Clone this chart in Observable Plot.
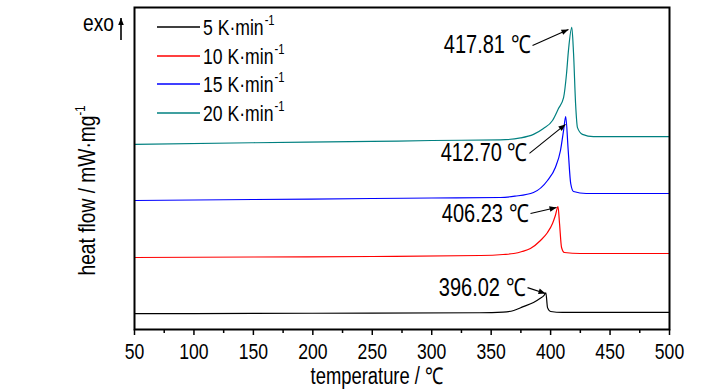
<!DOCTYPE html>
<html><head><meta charset="utf-8">
<script src="https://cdn.jsdelivr.net/npm/d3@7"></script>
<script src="https://cdn.jsdelivr.net/npm/@observablehq/plot@0.6"></script>
<style>body{margin:0;background:#fff}</style>
</head><body><div id="chart"></div>
<script>
// ---- data (temperature in °C, heat flow in arbitrary offset units) ----
const rates = ["5", "10", "15", "20"];
const colors = ["#000000", "#ff0000", "#0000ff", "#008080"];

const t5  = [50, 150, 250, 340, 360, 369, 377, 385.6, 391, 394.5, 396.02, 397.4, 400, 410, 500];
const hf5 = [4.9, 5.0, 5.1, 5.2, 5.4, 5.9, 7.1, 8.4, 9.6, 10.6, 11.4, 6.8, 5.6, 5.3, 5.3];

const t10  = [50, 150, 250, 341, 360, 369, 376, 383, 391.5, 397.4, 401.6, 404, 406.23, 407.5, 409.2, 411.6, 425, 500];
const hf10 = [22.36, 22.52, 22.67, 22.98, 23.29, 23.6, 24.22, 25.16, 27.64, 30.12, 32.92, 35.4, 38.2, 32.92, 25.47, 23.91, 23.6, 23.6];

const t15  = [50, 150, 250, 300, 357.8, 370, 385.6, 397.4, 404, 408.3, 410.9, 412.70, 414.8, 416.9, 419.3, 430, 500];
const hf15 = [40.06, 40.37, 40.68, 40.84, 41.0, 41.4, 42.55, 46.27, 50.31, 55.59, 61.8, 66.15, 55.59, 45.34, 42.86, 42.24, 42.24];

const t20  = [50, 150, 250, 300, 357.8, 374.7, 385.6, 394, 401.6, 406.6, 410.9, 413.4, 415, 417.81, 419.3, 421, 422.6, 426.8, 436, 500];
const hf20 = [57.5, 58.0, 58.4, 58.7, 58.9, 59.5, 60.6, 62.4, 64.9, 68.6, 72.0, 79.5, 86.6, 93.8, 85.7, 70.2, 62.7, 60.6, 59.9, 59.9];

const peakLabels = ["396.02 ℃", "406.23 ℃", "412.70 ℃", "417.81 ℃"];
const arrowFromT  = [380.6, 383.1, 382.2, 384.8];
const arrowFromHF = [13.0, 36.0, 54.7, 88.2];
const arrowToT    = [395.7, 405.0, 412.5, 415.0];
const arrowToHF   = [11.2, 37.9, 63.7, 93.2];

const xTicks = [50, 100, 150, 200, 250, 300, 350, 400, 450, 500];
const xMinorTicks = [75, 125, 175, 225, 275, 325, 375, 425, 475];

// ---- build tables ----
const allT = [t5, t10, t15, t20];
const allHF = [hf5, hf10, hf15, hf20];
const curves = rates.flatMap((r, i) => allT[i].map((t, j) => ({rate: r, t, hf: allHF[i][j]})));
const annots = rates.map((r, i) => ({
  rate: r, label: peakLabels[i],
  x1: arrowFromT[i], y1: arrowFromHF[i], x2: arrowToT[i], y2: arrowToHF[i]
}));

const FONT = "'Liberation Sans', Arial, sans-serif";
const NARROW = 0.8; // horizontal condensing to mimic Arial Narrow

const plot = Plot.plot({
  width: 728, height: 390,
  marginLeft: 134, marginRight: 59, marginTop: 7, marginBottom: 61,
  x: {domain: [50, 500]},
  y: {domain: [0, 100], axis: null},
  color: {domain: rates, range: colors},
  style: {fontFamily: FONT, fontSize: "22px", background: "#fff", color: "#000", overflow: "visible"},
  marks: [
    Plot.axisX(xTicks, {tickSize: 6, tickPadding: 8, strokeWidth: 1.5, fontSize: 22, label: null}),
    Plot.axisX(xMinorTicks, {tickSize: 4, strokeWidth: 1.5, tickFormat: () => "", label: null}),
    Plot.line(curves, {x: "t", y: "hf", z: "rate", stroke: "rate", strokeWidth: 1.2, curve: "monotone-x"}),
    Plot.link(annots, {x1: "x1", y1: "y1", x2: "x2", y2: "y2", stroke: "#000", strokeWidth: 1.1, className: "annot-arrow"}),
    Plot.text(annots, {x: "x1", y: "y1", text: "label", textAnchor: "end", dx: -2, fontSize: 25, fill: "#000"}),
    Plot.text(["temperature / ℃"], {frameAnchor: "bottom", lineAnchor: "top", textAnchor: "middle", dx: -25, dy: 38, fontSize: 23}),
    Plot.text(["heat flow / mW·mg"], {frameAnchor: "left", textAnchor: "middle", rotate: -90, dx: -47, dy: 22, fontSize: 24, className: "ylab"}),
    Plot.frame({stroke: "#000", strokeWidth: 2})
  ]
});

document.getElementById("chart").appendChild(plot);

// ---- post-processing: arrowheads, superscripts, legend ----
const svg = d3.select(plot);
const defs = svg.append("defs");
defs.append("marker").attr("id", "ahead")
  .attr("viewBox", "0 -5 10 10").attr("refX", 10).attr("refY", 0)
  .attr("markerWidth", 10).attr("markerHeight", 7).attr("markerUnits", "userSpaceOnUse")
  .attr("orient", "auto")
  .append("path").attr("d", "M0,-4L10,0L0,4Z").attr("fill", "#000");
svg.selectAll("g.annot-arrow path").attr("marker-end", "url(#ahead)");

svg.select("g.ylab text").append("tspan").attr("dy", "-10").attr("font-size", "14px").text("-1");

function condense(node) {
  const len = node.getComputedTextLength();
  if (len > 0) {
    node.setAttribute("textLength", (len * NARROW).toFixed(2));
    node.setAttribute("lengthAdjust", "spacingAndGlyphs");
  }
  return len * NARROW;
}

const left = 134, legX1 = left + 23, legX2 = left + 66;
const legY = [27, 56, 84, 113];
const leg = svg.append("g").attr("font-family", FONT).attr("font-size", 22).attr("text-anchor", "start");
rates.forEach((r, i) => {
  leg.append("line").attr("x1", legX1).attr("x2", legX2).attr("y1", legY[i]).attr("y2", legY[i])
    .attr("stroke", colors[i]).attr("stroke-width", 1.3);
  const tx = legX2 + 3;
  const t = leg.append("text").attr("class", "legmain").attr("x", tx).attr("y", legY[i] + 8).text(`${r} K·min`);
  const w = condense(t.node());
  const s = leg.append("text").attr("class", "legsup").attr("x", tx + w + 1).attr("y", legY[i] - 2)
    .attr("font-size", 14).text("-1");
  condense(s.node());
});

// exo arrow
const exo = svg.append("g").attr("font-family", FONT).attr("font-size", 24);
exo.append("text").attr("x", 114).attr("y", 31).attr("text-anchor", "end").text("exo");
exo.append("line").attr("x1", 121).attr("x2", 121).attr("y1", 40).attr("y2", 18).attr("stroke", "#000").attr("stroke-width", 1.6)
  .attr("marker-end", "url(#ahead)");

// condense remaining text horizontally (reference uses a narrow face)
svg.selectAll("text:not(.legmain):not(.legsup)").each(function () { condense(this); });
</script>
</body></html>
